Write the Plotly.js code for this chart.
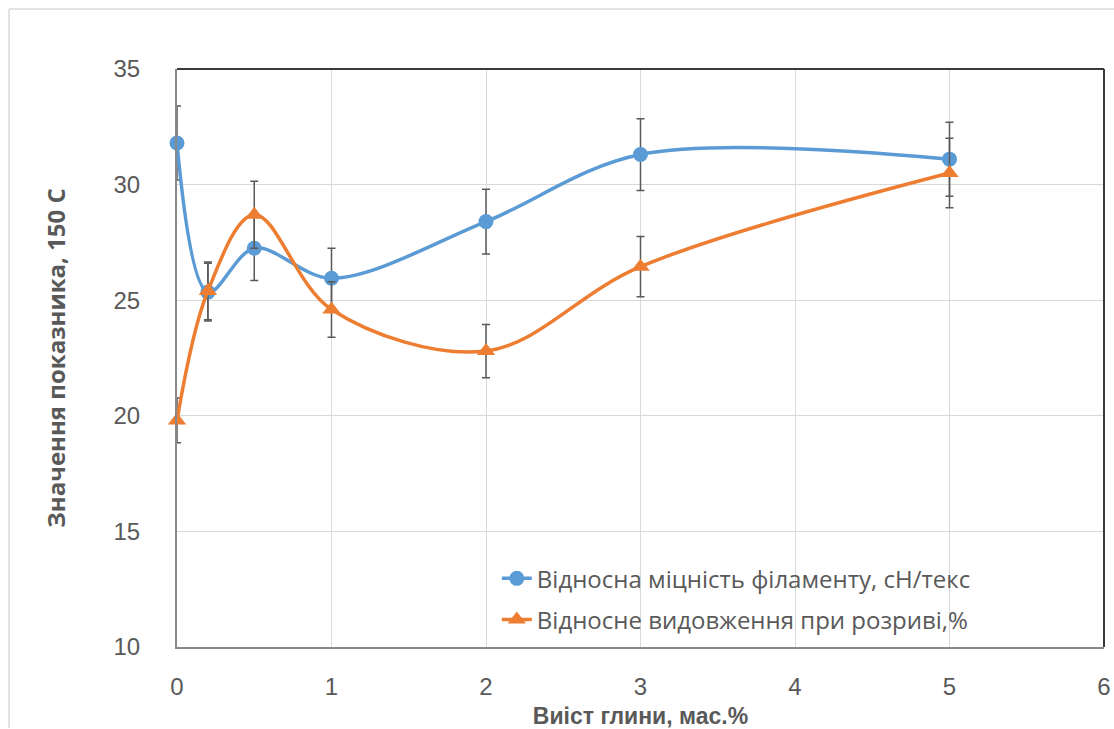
<!DOCTYPE html>
<html><head><meta charset="utf-8">
<script src="https://cdn.plot.ly/plotly-3.0.1.min.js"></script>
<style>html,body{margin:0;padding:0;background:#fff}#chart{width:1114px;height:729px}</style>
</head><body><div id="chart"></div>
<script>
const xVals = [0, 0.2, 0.5, 1, 2, 3, 5];
const strength = [31.8, 25.35, 27.25, 25.95, 28.4, 31.3, 31.1];
const strengthErr = [1.6, 1.25, 1.4, 1.3, 1.4, 1.55, 1.6];
const elongation = [19.8, 25.4, 28.7, 24.6, 22.8, 26.45, 30.5];
const elongationErr = [0.97, 1.25, 1.45, 1.2, 1.15, 1.3, 1.5];
const name1 = "Відносна міцність філаменту, сН/текс";
const name2 = "Відносне видовження при розриві,%";
const xTitle = "Виіст глини, мас.%";
const yTitle = "Значення показника, 150 С";

const errStyle = {type:'data', visible:true, color:'#595959', thickness:1.5, width:4};
const traces = [
  {x:xVals, y:strength, name:name1, legendgroup:'a', mode:'lines+markers', type:'scatter',
   line:{color:'#5B9BD5', width:3.5, shape:'spline', smoothing:0.95},
   marker:{color:'#5B9BD5', size:15, symbol:'circle'},
   error_y:Object.assign({array:strengthErr}, errStyle), cliponaxis:false},
  {x:xVals, y:elongation, name:name2, legendgroup:'b', mode:'lines+markers', type:'scatter',
   line:{color:'#ED7D31', width:3.5, shape:'spline', smoothing:1},
   marker:{color:'#ED7D31', size:16, symbol:'triangle-up'},
   error_y:Object.assign({array:elongationErr}, errStyle), cliponaxis:false}
];
const layout = {
  width:1114, height:729,
  margin:{l:177, r:10, t:69, b:82},
  paper_bgcolor:'#fff', plot_bgcolor:'#fff',
  showlegend:true,
  legend:{x:0.345, y:0.157, xanchor:'left', yanchor:'top', bgcolor:'rgba(0,0,0,0)',
    traceorder:'grouped', tracegroupgap:7, itemwidth:30,
    font:{family:'Open Sans, sans-serif', size:24, color:'#595959'}},
  xaxis:{range:[0,6], dtick:1, tick0:0, showgrid:true, gridcolor:'#d9d9d9', gridwidth:1,
    zeroline:false, showline:true, linecolor:'#898989', linewidth:2,
    ticks:'', ticklabelstandoff:17,
    tickfont:{family:'Liberation Sans Narrow, Arial Narrow, sans-serif', size:24, color:'#595959'},
    title:{text:xTitle, standoff:10, font:{family:'Liberation Sans Narrow, sans-serif', size:23, color:'#595959', weight:'bold'}}},
  yaxis:{range:[10,35], dtick:5, tick0:10, showgrid:true, gridcolor:'#d9d9d9', gridwidth:1,
    zeroline:false, showline:true, linecolor:'#898989', linewidth:2,
    ticks:'', ticklabelstandoff:30,
    tickfont:{family:'Liberation Sans Narrow, Arial Narrow, sans-serif', size:24, color:'#595959'},
    title:{text:yTitle, standoff:41, font:{family:'Open Sans, sans-serif', size:24, color:'#595959', weight:'bold'}}},
  shapes:[
    {type:'line', xref:'paper', yref:'paper', x0:0, x1:1, y0:1, y1:1, line:{color:'#3a3a3a', width:2}},
    {type:'line', xref:'paper', yref:'paper', x0:1, x1:1, y0:0, y1:1, line:{color:'#3a3a3a', width:2}},
    {type:'line', xref:'paper', yref:'paper', x0:-0.1812, x1:-0.1812, y0:-0.14, y1:1.104, line:{color:'#d9d9d9', width:1.5}},
    {type:'line', xref:'paper', yref:'paper', x0:-0.1812, x1:1.02, y0:1.104, y1:1.104, line:{color:'#d9d9d9', width:1.5}}
  ]
};
Plotly.newPlot('chart', traces, layout, {displayModeBar:false, staticPlot:true});
</script></body></html>
